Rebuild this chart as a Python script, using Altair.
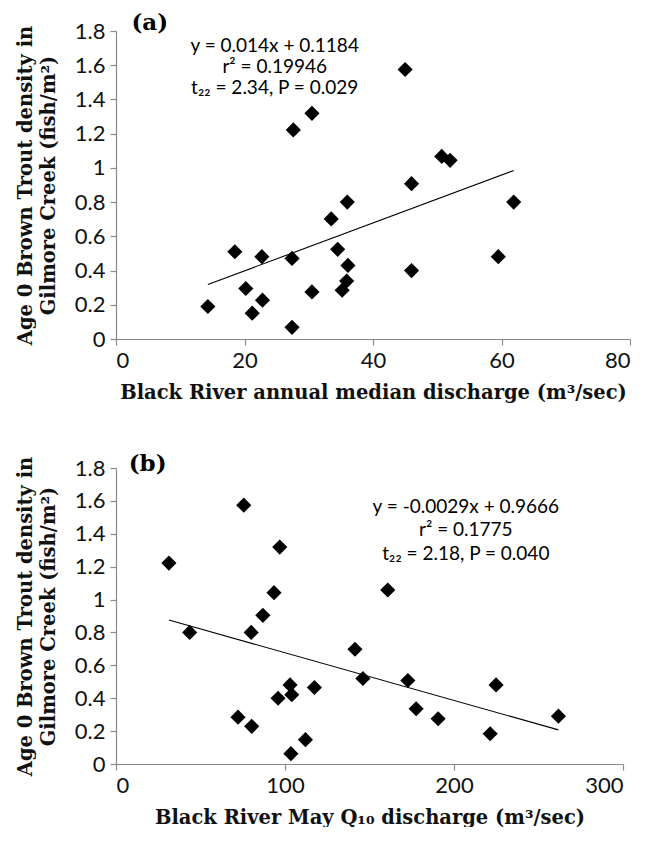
import altair as alt
import pandas as pd

# ---------------- data ----------------
# Panel (a): annual median discharge vs age-0 brown trout density
a_discharge = [14.3, 18.5, 20.2, 21.2, 22.7, 22.8, 27.4, 27.4, 27.6, 30.5, 30.5, 33.5,
               34.5, 35.2, 35.9, 36.1, 36.0, 45.0, 46.0, 46.0, 50.7, 52.0, 59.5, 61.9]
a_density = [0.19, 0.51, 0.295, 0.151, 0.481, 0.227, 0.068, 0.471, 1.222, 1.319, 0.275, 0.702,
             0.524, 0.285, 0.339, 0.43, 0.80, 1.575, 0.908, 0.40, 1.067, 1.044, 0.481, 0.80]
a_slope, a_intercept = 0.014, 0.1184
a_stats = ["y = 0.014x + 0.1184", "r² = 0.19946", "t₂₂ = 2.34, P = 0.029"]

# Panel (b): May Q10 discharge vs age-0 brown trout density
b_q10 = [31.3, 43.6, 72.2, 75.6, 80.3, 80.0, 86.9, 93.5, 96.9, 95.9, 103.0, 104.0,
         103.5, 112.1, 117.4, 141.4, 146.1, 160.8, 172.7, 177.6, 190.6, 221.4, 224.9, 261.8]
b_density = [1.222, 0.80, 0.285, 1.574, 0.229, 0.80, 0.904, 1.042, 1.319, 0.40, 0.481, 0.421,
             0.063, 0.148, 0.465, 0.698, 0.52, 1.058, 0.508, 0.336, 0.275, 0.184, 0.481, 0.291]
b_slope, b_intercept = -0.0029, 0.9666
b_stats = ["y = -0.0029x + 0.9666", "r² = 0.1775", "t₂₂ = 2.18, P = 0.040"]

y_ticks = [0, 0.2, 0.4, 0.6, 0.8, 1.0, 1.2, 1.4, 1.6, 1.8]
a_xticks = [0, 20, 40, 60, 80]
b_xticks = [0, 100, 200, 300]
y_title = ["Age 0 Brown Trout density in", "Gilmore Creek (fish/m²)"]
a_xtitle = "Black River annual median discharge (m³/sec)"
b_xtitle = "Black River May Q₁₀ discharge (m³/sec)"

LABEL_FONT = "Lato"
TITLE_FONT = "DejaVu Serif"
AXIS_GREY = "#8a8a8a"


def panel(xs, ys, slope, intercept, stats, stat_x, stat_y, tag, tag_x, tag_y,
          xdomain, xticks, xtitle, w, h):
    pts = pd.DataFrame({"x": xs, "y": ys})
    x0, x1 = min(xs), max(xs)
    line = pd.DataFrame({"x": [x0, x1], "y": [slope * x0 + intercept, slope * x1 + intercept]})
    txt = pd.DataFrame({"x": [stat_x] * len(stats), "y": stat_y, "t": stats})
    lab = pd.DataFrame({"x": [tag_x], "y": [tag_y], "t": [tag]})

    axis_common = dict(grid=False, tickSize=6, labelPadding=5,
                       labelFont=LABEL_FONT, labelFontSize=22, labelColor="#111111",
                       titleFont=TITLE_FONT, titleFontWeight="bold", titleFontSize=19.5,
                       titleColor="#111111", domainColor=AXIS_GREY, tickColor=AXIS_GREY,
                       domainWidth=1.2, tickWidth=1.2, labelOverlap=False)

    xenc = alt.X("x:Q", scale=alt.Scale(domain=xdomain, nice=False, zero=False),
                 axis=alt.Axis(values=xticks, title=xtitle, titlePadding=12, **axis_common))
    yenc = alt.Y("y:Q", scale=alt.Scale(domain=[0, 1.8], nice=False, zero=False),
                 axis=alt.Axis(values=y_ticks, title=y_title, titlePadding=16,
                               titleLineHeight=23,
                               labelExpr="datum.value == 1 ? '1' : datum.value == 0 ? '0' : format(datum.value, '.1f')",
                               **axis_common))

    points = alt.Chart(pts).mark_point(shape="diamond", filled=True, color="black",
                                       opacity=1, size=230)
    reg = alt.Chart(line).mark_line(color="black", strokeWidth=1.1)
    annot = alt.Chart(txt).mark_text(font=LABEL_FONT, fontSize=19, color="black",
                                     align="center", baseline="middle").encode(text="t:N")
    tagm = alt.Chart(lab).mark_text(font=TITLE_FONT, fontWeight="bold", fontSize=23,
                                    color="black", align="left", baseline="middle").encode(text="t:N")
    return alt.layer(points, reg, annot, tagm).encode(x=xenc, y=yenc).properties(width=w, height=h)


pa = panel(a_discharge, a_density, a_slope, a_intercept, a_stats, 24.7,
           [1.715, 1.59, 1.465], "(a)", 2.4, 1.845, [0, 80], a_xticks, a_xtitle, 514, 308)
pb = panel(b_q10, b_density, b_slope, b_intercept, b_stats, 207,
           [1.563, 1.42, 1.28], "(b)", 7.5, 1.825, [0, 300], b_xticks, b_xtitle, 507, 296)

chart = alt.vconcat(pa, pb, spacing=50).properties(
    padding={"left": 7, "top": 4, "right": 0, "bottom": 0}
).configure_view(strokeWidth=0)

chart.save("out.html", embed_options={"renderer": "svg", "actions": False})
